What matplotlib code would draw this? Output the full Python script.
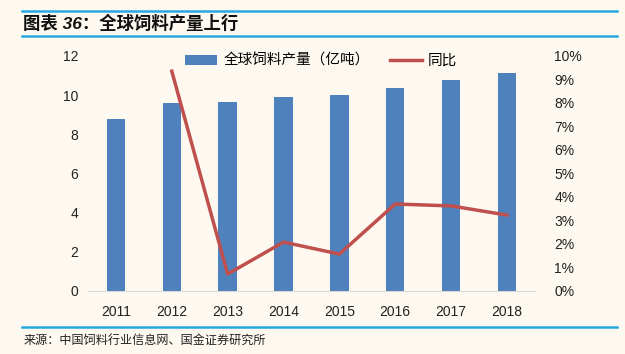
import matplotlib
matplotlib.use("Agg")
import matplotlib.pyplot as plt
from matplotlib.ticker import FuncFormatter

plt.rcParams['font.family'] = ['Liberation Sans', 'Noto Sans CJK SC', 'DejaVu Sans']

years = ["2011", "2012", "2013", "2014", "2015", "2016", "2017", "2018"]
output = [8.77, 9.58, 9.64, 9.88, 10.0, 10.38, 10.78, 11.12]   # 亿吨
yoy_years = ["2012", "2013", "2014", "2015", "2016", "2017", "2018"]
yoy = [9.35, 0.72, 2.08, 1.57, 3.70, 3.62, 3.23]                 # %

bg = "#FDF9F0"
bar_c = "#4F81BD"
line_c = "#C0504D"
rule_c = "#29A8E0"

fig = plt.figure(figsize=(6.25, 3.54), dpi=100, facecolor=bg)
ax = fig.add_axes([0.1408, 0.178, 0.715, 0.664], facecolor=bg)
ax2 = ax.twinx()

x = list(range(len(years)))
ax.bar(x, output, width=0.33, color=bar_c, label="全球饲料产量（亿吨）", zorder=2)
xi = [years.index(y) for y in yoy_years]
ax2.plot(xi, yoy, color=line_c, lw=2.5, label="同比")

ax.set_xlim(-0.5, 7.5)
ax.set_ylim(0, 12)
ax.set_yticks(range(0, 13, 2))
ax.set_xticks(x)
ax.set_xticklabels(years)
ax2.set_ylim(0, 10)
ax2.set_yticks(range(0, 11))
ax2.yaxis.set_major_formatter(FuncFormatter(lambda v, _: f"{v:.0f}%"))

for a in (ax, ax2):
    for s in a.spines.values():
        s.set_visible(False)
    a.tick_params(length=0, labelsize=10, colors="#222222")
ax.spines["bottom"].set_visible(True)
ax.spines["bottom"].set_color("#D9D9D9")
ax.tick_params(axis="y", pad=7)
ax.tick_params(axis="x", pad=10)
ax2.tick_params(axis="y", pad=14)

h1, l1 = ax.get_legend_handles_labels()
h2, l2 = ax2.get_legend_handles_labels()
ax.legend(h1 + h2, l1 + l2, loc="upper center", bbox_to_anchor=(0.522, 1.065), ncol=2,
          frameon=False, fontsize=10.5, handlelength=2.2, columnspacing=1.4,
          handletextpad=0.4, prop={'family': ['Noto Sans CJK SC'], 'size': 10.5, 'weight': 'light'})

# header / footer rules and text
fig.add_artist(plt.Line2D([0.035, 0.987], [0.969, 0.969], color=rule_c, lw=1.8))
fig.add_artist(plt.Line2D([0.035, 0.987], [0.898, 0.898], color=rule_c, lw=1.8))
fig.add_artist(plt.Line2D([0.035, 0.987], [0.077, 0.077], color=rule_c, lw=1.8))
fig.text(0.037, 0.934, "图表 36：全球饲料产量上行", fontsize=12.5, fontweight="bold",
         fontstyle="italic", va="center", ha="left", color="#111111",
         family=['Liberation Sans', 'Noto Sans CJK SC'])
fig.text(0.037, 0.040, "来源：中国饲料行业信息网、国金证券研究所", fontsize=8.7,
         va="center", ha="left", color="#222222", family=['Noto Sans CJK SC'])

fig.savefig("out.png", dpi=100, facecolor=bg)
